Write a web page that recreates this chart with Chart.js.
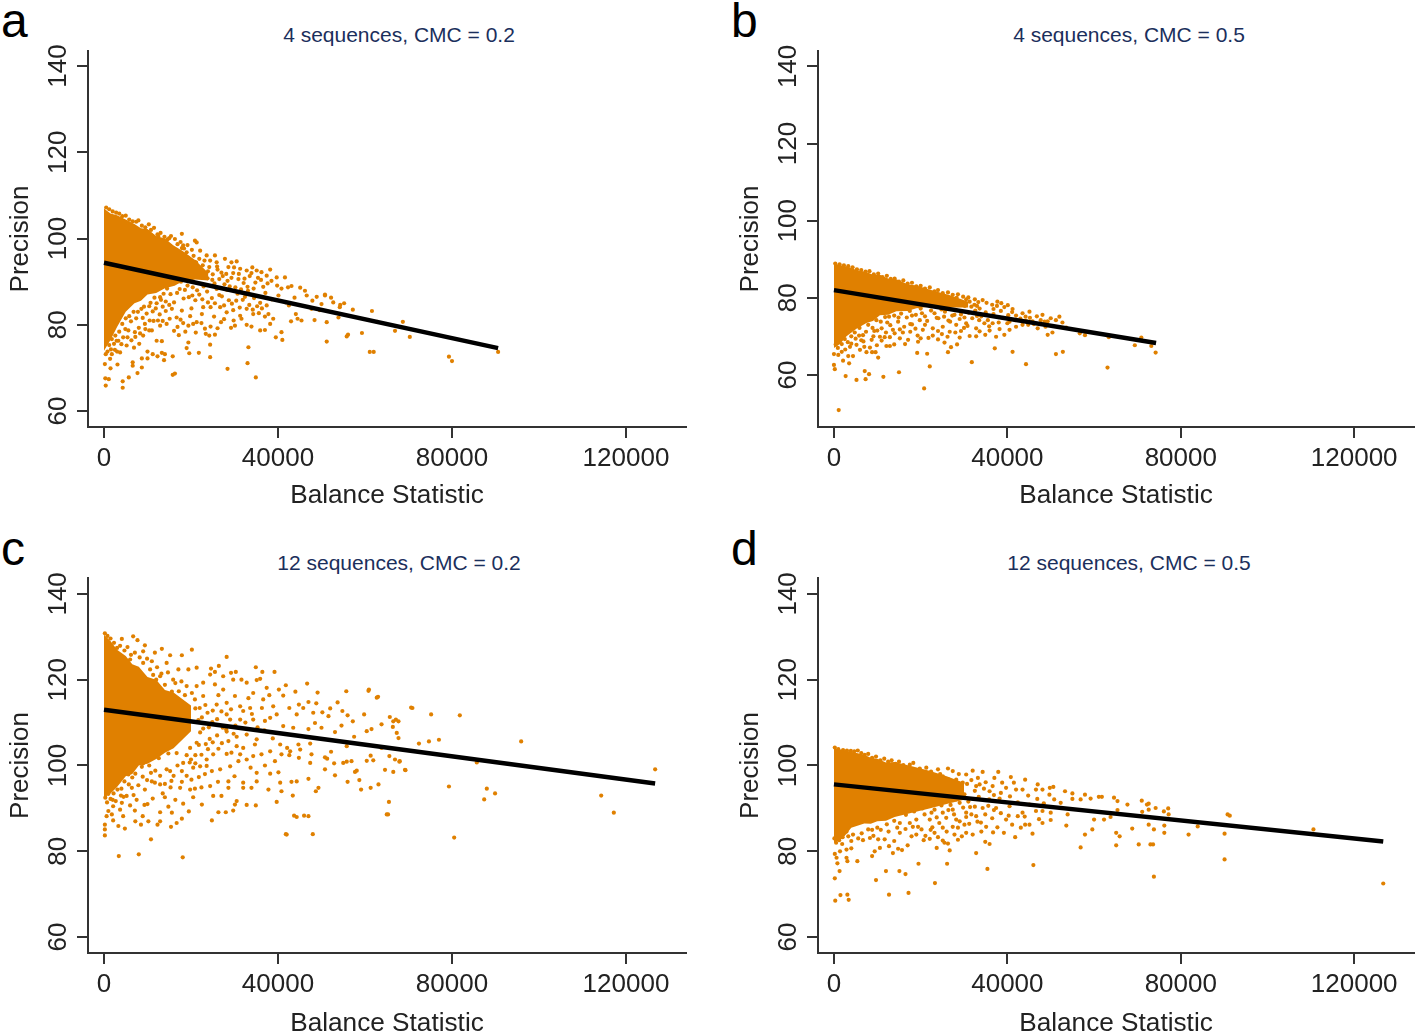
<!DOCTYPE html>
<html>
<head>
<meta charset="utf-8">
<title>Precision vs Balance Statistic</title>
<script src="https://cdn.jsdelivr.net/npm/chart.js@4"></script>
<style>
html, body { margin: 0; padding: 0; background: #fff; width: 1418px; height: 1034px; overflow: hidden; }
body { position: relative; font-family: "Liberation Sans", Arial, sans-serif; }
canvas { position: absolute; }
.letter { position: absolute; font-size: 48px; line-height: 48px; color: #000; }
.ptitle { position: absolute; width: 400px; text-align: center; font-size: 21px; line-height: 24px; color: #1b2f5c; }
</style>
</head>
<body>
<div class="letter" style="left:1px;top:-3px">a</div>
<div class="letter" style="left:731px;top:-3px">b</div>
<div class="letter" style="left:1px;top:525px">c</div>
<div class="letter" style="left:731px;top:525px">d</div>
<div class="ptitle" style="left:199px;top:23px">4 sequences, CMC = 0.2</div>
<div class="ptitle" style="left:929px;top:23px">4 sequences, CMC = 0.5</div>
<div class="ptitle" style="left:199px;top:551px">12 sequences, CMC = 0.2</div>
<div class="ptitle" style="left:929px;top:551px">12 sequences, CMC = 0.5</div>
<canvas id="panelA" width="700" height="490" style="left:0;top:40px"></canvas>
<canvas id="panelB" width="688" height="490" style="left:730px;top:40px"></canvas>
<canvas id="panelC" width="700" height="488" style="left:0;top:568px"></canvas>
<canvas id="panelD" width="688" height="488" style="left:730px;top:568px"></canvas>
<script>
const xTicks = [0, 40000, 80000, 120000];
const yTicks = [60, 80, 100, 120, 140];
const xTitle = "Balance Statistic";
const yTitle = "Precision";
const ORANGE = "#e08000";

// fitted lines
const fitA = [[0, 94.4], [90600, 74.6]];
const fitB = [[0, 82], [74300, 68.3]];
const fitC = [[0, 113], [126700, 95.8]];
const fitD = [[0, 95.6], [126700, 82.3]];

// solid part of each cloud, too dense to read single dots: x, top, bottom
const coreXA = [0, 1500, 3000, 5000, 7000, 8500, 10000, 12000, 14000, 16000, 18000, 21000, 24000];
const coreTopA = [107, 105.8, 105.4, 104.4, 103.4, 102.4, 102.2, 100.6, 100, 98.4, 97.2, 95, 92];
const coreBottomA = [74, 76.5, 79.5, 83, 85, 85.6, 87, 87.4, 88.5, 89, 90, 90.5, 90.3];
const coreXB = [0, 1400, 2900, 5200, 7500, 9000, 10600, 12500, 14400, 17000, 19000, 23000, 27000, 31000];
const coreTopB = [88.8, 88.5, 88.1, 87.2, 86.7, 86, 86, 85, 84.8, 83.5, 83.2, 81.8, 80.6, 79];
const coreBottomB = [67, 68, 70, 72, 73.5, 74, 75.5, 75.6, 76.5, 76.6, 77.3, 77.8, 77.5, 77.5];
const coreXC = [0, 1500, 3000, 5000, 6500, 8000, 10000, 12000, 14000, 16000, 20000];
const coreTopC = [130.5, 129, 127, 125.5, 123.6, 123, 120.6, 120, 117.6, 117, 114];
const coreBottomC = [92.5, 93.5, 95, 97.5, 98, 100, 100.4, 101.5, 103, 104, 108];
const coreXD = [0, 2000, 4000, 7000, 8500, 10000, 12000, 14000, 18000, 22000, 26000, 30000];
const coreTopD = [104, 103.6, 103.2, 102.5, 101.8, 101.6, 100.7, 100.8, 99.8, 98.8, 97.5, 96];
const coreBottomD = [82, 83, 85.5, 86.5, 86.4, 87, 87.1, 88, 89, 90, 91, 92];

const pointsA = [
[200,70.9],[1400,72.1],[3100,70.8],[1500,69.9],[300,67.6],[1100,67.4],[400,65.9],[4300,66.9],[4300,65.4],[5700,67.8],[7700,68.8],[8700,70.1],
[6600,71.3],[6600,70.5],[8700,72.2],[10000,73.8],[10000,72.2],[11200,73.2],[12300,72.7],[13300,73.5],[14000,73.2],[13800,71.8],[15800,72.7],[15800,68.4],
[16300,68.7],[19400,75.9],[19000,74.6],[19600,73.4],[21800,73.5],[24400,72.5],[24400,75.4],[23400,77.9],[24200,77.5],[25500,77.7],[17200,77.6],[12100,76.3],
[13300,76.2],[28400,69.8],[33000,71.1],[33200,74.8],[34900,67.8],[39500,77.1],[40800,78.3],[41000,76.5],[51200,76.1],[51200,80.6],[55800,77.3],[56100,77.7],
[59300,78.1],[61100,73.7],[62000,73.7],[62800,80.7],[66900,78.6],[70300,77.2],[68700,80.7],[61600,83.2],[79300,72.6],[80000,71.6],[90600,73.7],[50800,87],
[57200,83.5],[54300,84.6],[17900,101.1],[20900,99.5],[21300,99.1],[16300,99.9],[18200,98.4],[20200,97.4],[19000,96.8],[22100,97.2],[23600,96.1],[25500,96.1],
[24400,94.9],[25900,94.5],[27800,95.3],[29300,94.5],[30500,94.7],[28600,93.4],[31300,93],[32800,92.6],[34100,93.3],[35100,92.6],[36200,92.2],[38200,92.8],
[37400,91.4],[39700,91],[41600,91],[43100,89],[45100,88.6],[46200,87.9],[46600,86.8],[50800,86.8],[52700,85.2],[55200,85],[54200,84.1],[50000,84.8],
[47700,83.7],[44100,82.5],[44500,81.4],[45400,81],[43000,80.8],[48400,81.1],[53900,81.7],[37400,84.5],[37800,82.5],[37000,81.9],[38900,81.4],[38200,80.2],
[35900,78.7],[37000,78.8],[33900,79.6],[32800,80],[30100,79.8],[31300,82.1],[31600,81.4],[34300,82.5],[32800,83.7],[28200,82.9],[26700,84.1],[22800,84.1],
[22500,82.5],[21300,80.6],[19400,79.8],[20500,80.2],[17900,83.3],[16700,81.7],[14400,80.2],[12900,79.8],[11000,78.7],[9000,77.5],[7100,78.3],[5600,78.7],
[5200,75.2],[3700,73.6],[2500,74.2],[1800,73.2],[3300,76.3],[4400,77.1],[2600,77.5],[6200,80.8],[7400,81.5],[8600,83.7],[9800,82.6],[10700,85.1],
[11900,83.8],[13100,85.8],[14200,83.2],[15300,87.1],[16100,85.2],[17400,88.3],[18300,86.1],[19200,89.1],[20300,86.8],[21400,88],[22600,85.9],[23700,87.7],
[24800,86.2],[25900,88.3],[27100,86.6],[28300,88.1],[29400,84.9],[30700,87.2],[31900,85.8],[33100,87.9],[34500,86.2],[35900,85.1],[37100,87.4],[38600,85.9],
[40100,86.8],[41800,85.2],[18700,93.5],[19700,92],[20900,94.6],[21800,91.2],[22700,93.8],[23900,92.4],[24900,90.4],[26100,92.8],[27300,91.3],[28400,90.2],
[29700,92],[30900,90.6],[32100,89.7],[33500,91.3],[34800,89.8],[36100,90.4],[15300,95.8],[16700,93],[17200,96.2],[14800,97.1],[12500,100.6],[15000,100.1],
[11600,86.3],[9400,80.2],[8000,79.3],[10500,81],[12800,82.4],[15600,83.7],[16900,79.5],[18200,80.4],[20100,83.8],[23200,79.1],[25300,81.9],[26900,80.6],
[6900,74.7],[8100,75.6],[4900,79],[29800,81],[35200,84.3],[42500,84.5],[43800,86.3],[47900,85.6],[48900,86.5],[52200,86.3],[49600,83.4],
[500,107.2],[1200,106.8],[2000,106.3],[2800,106],[3500,105.8],[4200,105.2],[5000,105.3],[5800,104.4],[6600,104],[7400,103.9],[7900,104.2],[8700,103],
[9500,102.6],[10300,103.3],[10800,102],[11500,102.5],[12300,101],[13000,101.3],[13900,100.4],[14600,99.8],[15400,100.6],[16900,98.7],[17600,99.2],[18400,97.7],
[19200,98.5],[16300,97],[17100,95],[17900,97.8],[18500,94.2],[19300,95.6],[20000,93],[20600,96],[21200,94.4],[21900,95.3],[22600,91.9],[23100,94.9],
[23800,90.8],[24200,93.4],[25000,91.7],[25400,89.6],[26000,93.5],[26500,90.6],[27000,92.1],[27700,89.4],[28100,91.8],[28900,88.9],[29300,90.9],[29900,93.3],
[30200,88.7],[31000,91.8],[31500,88.2],[32300,90.7],[33000,88.8],[33900,92],[34400,88.4],[35400,90.9],[36600,88.8],[37600,89.6],[38500,90.2],[39800,89.1],
[40800,88.4],[42300,88.7],[15100,90.8],[16200,89.6],[16800,87.4],[17700,90],[18600,88.1],[19500,86.4],[20400,88.7],[21000,85.7],[21900,87],[22900,88.9],
[23900,85.2],[24500,84.1],[25500,85],[26500,86.9],[27600,84.5],[28700,85.7],[29700,83.4],[30400,85.6],[31200,84],[32400,86.5],[33400,84.6],[34200,83.5],
[35600,82.7],[36300,83.8],[14500,88.4],[13700,87.2],[12900,86.4],[14200,85.4],[15000,84.6],[13500,84.2],[12100,85],[11200,83.1],[10400,84.3],[9200,84.2],
[8900,81.6],[7800,83],[6800,83],[5800,82],[5000,81.5],[4200,80.2],[3500,78.4],[2900,76.3],[2300,75.6],[1800,76.7],[1200,75.3],[800,73.8],
[400,73.2],[1600,74.3],[3000,73.8],[4000,75.5],[5400,77.1],[6300,76.4],[7200,77.2],[8300,78],[9500,79],[10400,78.7],[11400,80.9],[12400,81],
[13500,80.9],[15100,81.4],[16100,78.6],[17600,81.2],[18700,78.4],[19800,82],[21100,78.2],[22400,80.4],[24500,79.6],[26100,79.2],[27600,81.3],[29200,79.3]
];

const pointsB = [
[1100,50.9],[2700,59.7],[5200,58.7],[7300,58.9],[7100,61],[8100,60.2],[11400,59.5],[15000,60.7],[20800,56.5],[22100,62.2],[21500,65.5],[19200,65.7],
[26300,65.9],[27000,67.2],[28400,67.9],[31800,63.3],[37100,66.9],[41200,66],[44300,62.8],[51200,65.4],[52800,66],[63100,61.9],[69400,67.7],[73200,67.5],
[74200,65.8],[70900,69.7],[63400,69.8],[57900,70.3],[56700,70.8],[49300,70.4],[50400,71],[52000,75.1],[50000,74.7],[52700,73.6],[47000,72.1],[45100,76.4],
[43500,76],[42000,75.4],[47700,74.2],[40100,78.1],[39300,77.6],[34300,79.4],[31300,79],[37400,69.9],[34900,70.4],[32800,72.1],[31300,70.1],[39300,70.4],
[40500,71.7],[42000,72.5],[43500,73],[44800,73],[36600,73.4],[34700,73.4],[30500,73.4],[28200,73],[26700,71.2],[25100,72.5],[22800,72.1],[20500,71.7],
[19400,68.6],[17100,69.1],[15200,69.5],[12900,67.5],[12100,67.5],[10200,64.5],[9600,65.9],[8800,65.9],[7500,65.9],[6000,66.5],[4400,64.9],[3300,64.9],
[3500,63],[2100,63.7],[0,62.6],[200,61.5],[0,65.4],[1000,65.2],[1800,66],[3700,67.3],[5200,67.8],[8700,69.1],[10600,69.9],[11700,69.8],
[12900,69.8],[13600,71.7],[11000,72.1],[16200,72.5],[18000,73.1],[19800,74.2],[21500,74],[23700,74.8],[25400,75.1],[27300,75.4],[29300,75.7],[31100,76.1],
[33000,75.3],[35000,76.2],[36800,75.8],[38500,76.6],[40200,75.5],[41800,74.2],[26000,79.6],[27200,78.7],[28300,80],[29500,78.5],[30500,79.6],[32400,78.2],
[33300,78.9],[35200,78.7],[36500,78.2],[37600,77.9],[38600,78.6],[33600,77.2],[28100,76.8],[24800,77],[22400,76.7],[20300,76],[18000,75.4],[14800,73.8],
[12300,73.6],[9300,71.4],[7400,71.2],[5800,70.2],[6800,68.7],[9900,67.7],[13900,67.9],[15900,71],[17600,71.2],[19300,70.2],[21800,69.6],[24000,69.2],
[24900,70.6],[29300,71.4],[33500,74.2],[35900,71.5],[46100,73.2],[48600,73.8],[48800,72.5],[53600,72.3],[45200,74.8],[41200,77.1],[44200,75.1],[38000,73.6],
[30100,74.9],[26400,74.1],[24000,79.2],[37700,79],[22100,81],[24800,80.1],
[300,88.9],[1300,88.7],[2300,88.4],[3300,88.2],[4300,87.9],[5300,87.4],[6300,87.2],[7300,86.8],[8200,86.9],[9200,86.1],[10200,86.3],[11200,85.4],
[12200,85.7],[13100,84.9],[14000,85],[15000,84.2],[16000,84.5],[17000,83.7],[18000,83.9],[19000,83],[20000,83.1],[21000,82.4],[22100,82.7],[23200,81.7],
[24000,82],[25100,81.2],[26300,81.4],[27400,80.8],[28600,80.9],[29800,80.3],[31000,80.1],[32500,79.6],[24100,80.2],[25300,79.8],[26500,79.9],[27800,79.1],
[29000,79],[30200,77.9],[31700,77.7],[33000,77.9],[15500,75.9],[16800,74.9],[17500,76.6],[18900,75.6],[20000,77.2],[21000,75.2],[22000,78],[23200,76],
[24100,74.7],[25600,76.4],[26800,73.8],[27800,75.6],[29000,74.5],[30800,72.7],[31900,74.7],[32600,76.7],[34000,75.2],[35500,74.2],[36800,77.1],[38000,75],
[39000,74.8],[40500,73.8],[41100,76.3],[43000,74.6],[44300,74],[45800,73.9],[46800,75.2],[48100,75.6],[49300,73.9],[51200,74.2],[5900,72.2],[6700,70.3],
[7900,73],[8900,72.2],[9800,74.2],[10800,73.8],[11800,75],[12700,75.1],[13900,75.4],[14900,74.9],[4800,71],[4000,70],[3200,68.5],[2500,69.3],
[1800,68],[900,67],[400,67.9],[1300,69.4],[2600,66.6],[4000,68.1],[5000,69.4],[6300,69],[7000,67.3],[8300,67.1],[9100,70],[10000,71.5],
[11000,68.9],[12000,71],[13000,72.9],[14000,70.8],[15200,71.8],[16400,68],[17600,73.2],[18800,72],[20000,69.5],[21000,73],[22800,70.2],[24000,71.4],
[25500,68.4],[26200,69.9],[28000,71],[29000,69.7],[30000,72.2],[32800,70],[33600,71.3],[35800,72.6],[38200,71.9],[40000,73.4]
];

const pointsC = [
[3400,78.9],[8000,79.3],[18100,78.6],[10800,82.8],[200,83.7],[200,85.1],[42000,83.9],[200,86.2],[4800,85.3],[3300,85.9],[8500,86.2],[10200,87],
[12300,86.2],[12900,87],[15400,85.7],[16700,86.6],[17900,87.6],[24800,87.2],[44300,88],[47000,88.2],[65000,88.6],[65500,91.5],[39700,91.5],[30500,91.7],
[30100,90.9],[32800,90.8],[34900,90.7],[29700,89.5],[28000,89.1],[26300,89.1],[22500,90.9],[20500,92.6],[18200,91.1],[14800,90.4],[12900,89.1],[15600,89],
[7100,89.5],[8900,88.2],[4400,88.2],[2100,87.2],[3700,89.7],[1800,88.6],[600,88.2],[11200,92.3],[17500,94.8],[19800,94.4],[20900,94.6],[24400,95.2],
[25100,92.9],[27000,92.9],[28600,94.8],[32000,96],[32000,94.8],[33900,94.8],[37800,94.4],[40800,94],[43400,93],[49300,94.8],[48700,94],[56000,96.2],
[59100,94.4],[61300,94.8],[63100,95.6],[58700,96.6],[47000,96.9],[44300,96.3],[43100,96.2],[40500,96],[40100,98.4],[38200,98.1],[35100,98.3],[35100,96.3],
[28600,96.3],[66500,98.5],[69300,98.9],[67900,100.9],[65600,102.2],[60400,101.1],[61900,101.2],[61300,102.3],[57700,98.5],[58100,98.8],[53100,97.7],[50800,99.1],
[52900,100.5],[55000,100.6],[56900,101],[55800,100.9],[50800,101.9],[51300,101.6],[47400,100.6],[47700,102.6],[44800,101.8],[42600,102.4],[42100,104.1],[40800,102.6],
[39300,101],[70900,113.4],[62700,115.8],[60800,117.4],[55700,117.3],[46700,119.1],[41800,118.7],[39200,121.8],[34900,122.9],[36400,121.8],[28200,125.3],[26400,123.2],
[24600,122.6],[29200,121.6],[30300,121.8],[25500,121.8],[24400,121.2],[20200,127],[17900,125.7],[15200,125.7],[13300,127.2],[9400,128],[6700,130.1],[7700,129.2],
[4100,129.5],[65700,111.3],[66500,110.3],[67700,110.3],[63800,109.6],[61500,108.5],[60400,108],[59800,111.9],[57200,110.3],[56000,111.7],[54800,112.7],[54600,109.3],
[52000,113.3],[50200,112.4],[48800,114.5],[47000,114.8],[44800,114.2],[45800,113.4],[42600,113.4],[44300,111.9],[48100,112.3],[51600,111.5],[48500,109.9],[50000,108.8],
[53100,107.8],[47000,108.5],[72400,105.1],[67700,106.4],[67300,107.6],[41200,116.3],[40200,117.7],[37400,118.1],[35100,119.9],[35900,120.2],[32800,119.3],[31600,120],
[29700,120],[27400,120.8],[34300,116.9],[36600,115.4],[33600,113.4],[36300,113.4],[32000,112.7],[38900,113.8],[39700,111.9],[41200,109.2],[43500,108.8],[34300,110.7],
[31300,110.7],[29000,110.7],[28200,111.9],[25900,114.2],[28200,114.6],[30100,116.2],[27400,117.7],[25500,118.9],[22800,119.3],[21300,122.8],[19400,122.4],[17100,122.4],
[14400,123.9],[11000,124.3],[11700,126.3],[9000,123.9],[6000,124.7],[21300,118.5],[22800,116.2],[20900,115.4],[19000,118.5],[15900,120],[12900,120.8],[32800,107.2],
[35100,106.1],[30500,104.5],[28600,105.7],[25100,102.6],[23600,101.4],[22100,99.8],[20500,99.5],[24800,98.7],[26700,99.1],[29000,99.8],[30900,101],[32800,101.4],
[34300,102.2],[36200,102.6],[32000,104.1],[34700,104.9],[38200,103.3],[40500,104.9],[42800,103.3],[44700,104.9],[45100,103.7],[47400,105.1],[18200,100.6],[15200,98.7],
[14400,99.1],[16700,102.9],[19800,104.1],[21300,105.3],[17900,98.7],[11700,96],[12900,95.6],[11000,96.3],[9400,94.4],[6400,94.8],[5200,92.9],[4100,91.3],
[2100,90.5],[1000,89.4],[126700,99.1],[114300,93],[117200,89],[95900,105.6],[81800,111.7],[75200,111.9],[70600,113.5],[85700,100.7],[88000,94.6],[87400,92.1],
[89900,93.5],[79300,95.1],[80500,83.2],[77000,106],[74700,105.6],[69200,99],[66900,101.4],[65300,88.6],[64600,99],[60900,117.7],[63000,116],[67100,110.7],
[66400,109],[68000,101],[48000,84],[46000,88.3],[43700,88.3],[41800,84],[7500,92],[10000,91],[13500,93.5],[15500,96.4],[21800,97.3],[23200,98],
[26200,96.2],[30000,97.5],[33700,99.5],[37000,100],[38800,106.3],[36900,108.2],[29800,107.4],[27300,108.8],[24900,110.1],[23800,112.3],[26300,116.4],[22000,113.4],
[33200,115.7],[38000,116.4],[44000,117.2],[49100,117],[53700,114.7],[57500,106.7],[63800,104.1],[55800,104.5],[52200,103.2],[12000,120],[17200,117.3],[18000,113.6],
[8700,99.7],[10400,100],[12600,101.7],[14800,102.8],[4000,94.6],[2000,92],[17000,108.2],[19400,108.6],[22100,107.7],[24300,106.2],[26300,103.9],[28200,102.7],
[200,130.8],[800,130.2],[1500,129.6],[2300,128.6],[3000,127.4],[3700,127.9],[4700,126.8],[5400,127.6],[6200,125.8],[7100,126.3],[8200,125.2],[9000,126.6],
[9900,124.9],[10600,122.4],[11300,121.1],[12200,122.9],[13200,121.4],[14000,118.8],[14700,121.7],[15600,117.2],[16400,119.2],[17000,115.4],[17800,119.6],[18600,116.4],
[19500,113.2],[20200,116.9],[21000,113.3],[21700,110.6],[22500,111.2],[23300,114.1],[24100,108.9],[25000,112.8],[26000,110.8],[27000,112.6],[28100,108.4],[29200,113.1],
[30200,109.3],[31300,113.8],[32500,110],[34000,112],[35300,108.9],[37000,110.4],[38200,111.1],[21800,104.8],[22800,108.6],[23900,103.8],[25000,105.4],[26000,107],
[27100,105.2],[28200,107.9],[29300,103],[30500,106.7],[31300,102.6],[19000,102.4],[20000,101.4],[21000,102.4],[22400,102.5],[23400,105],[9000,100.5],[8000,100.9],
[7200,98.1],[6500,97.2],[5600,97.9],[4700,96.3],[3900,93],[3100,94.4],[2200,93.5],[1500,92.2],[700,91.4],[300,92.5],[1000,93.4],[2700,91.7],
[4500,92.7],[5700,95.6],[6800,93.1],[7900,95.4],[8900,97.4],[9900,96.6],[10800,98.3],[11800,98.8],[12900,97.6],[14000,95.7],[15300,94.9],[16000,97.6],
[16900,100],[17900,96.2],[19000,97.6],[20100,96.7],[21000,100.5],[22400,94.9],[23600,99.9],[19700,100.7],[7200,87],[14000,92.6],[16400,92],[19500,89.3],[6000,90.7],[9300,90.8]
];

const pointsD = [
[300,68.5],[1500,69.8],[3100,69.9],[3400,68.7],[12700,69.9],[17200,70.3],[23300,72.6],[9700,73.3],[12000,75.4],[15100,75.4],[16500,74.7],[200,73.7],
[1300,75.4],[800,77.2],[3100,77.7],[5400,77.7],[19500,77.1],[26100,77.1],[35400,75.9],[46000,76.8],[73800,74.1],[73000,81.6],[73600,81.6],[65100,81.4],
[56900,80.9],[32800,79.6],[23700,80.8],[26700,80.2],[34900,82.2],[35900,81.7],[25500,82],[26300,81.8],[25100,82.5],[15700,80.3],[14800,80.6],[13600,79.6],
[12700,81.2],[10600,80.8],[9400,80],[8800,78.9],[4000,80.7],[2900,80.4],[1400,80],[200,79.4],[600,78.5],[2900,78.5],[65900,83.5],[65100,84.3],
[59600,85.1],[57900,83.9],[53600,86],[68800,85.3],[73800,85.1],[76200,84.3],[76200,86],[77100,90],[74200,90.1],[72600,89.7],[72600,91.1],[71000,91.8],
[67700,90.9],[64600,92.5],[65400,91.7],[61100,92.7],[61800,92.7],[59200,92.3],[57900,93.2],[56900,92.1],[55000,93.5],[53300,94],[55000,92.2],[50600,95],
[49800,94.8],[47000,95.6],[44100,96.7],[40800,97.3],[37900,98.5],[34300,98.5],[32000,98.8],[26300,99.3],[37000,97.1],[33200,97.1],[30500,97.9],[27400,98.7],
[24000,99.1],[42000,94.4],[43500,94.4],[39700,94.8],[38500,93.6],[36600,95.2],[48100,94.4],[46600,94.4],[49700,93.2],[50800,92.1],[52300,91.3],[45100,90.9],
[46600,89.4],[48100,89.4],[50000,89],[53900,88.6],[60000,87.4],[62300,87.4],[63800,88],[65400,89.6],[71100,89.2],[50000,87.3],[48100,86.6],[45100,86.2],
[44100,86.2],[43100,85.5],[41800,83.3],[45800,84.1],[41100,86.2],[39200,84.3],[35100,85.7],[36500,87.7],[32000,83.9],[29500,83.5],[30500,84.3],[28600,85.5],
[27400,85.7],[25100,85.5],[23200,84.3],[22100,82.9],[20200,85.1],[19000,83.9],[17900,83.5],[15200,84.3],[13900,82.4],[11700,82.8],[10200,82.8],[8300,83.1],
[7900,85.1],[4400,83.9],[3300,83.5],[27400,89.7],[30500,89],[32800,88.2],[34300,90.1],[37400,90.1],[40500,90.5],[42400,88.2],[43500,89],[25100,89],
[23200,89.7],[28200,87.4],[25900,87.8],[22100,87.4],[20900,88.6],[17500,86.6],[19000,87.4],[15200,86.6],[17500,100.2],[18300,100.6],[21300,99.5],[20900,97.9],
[25100,97.5],[28200,96.7],[29700,96],[32800,95.2],[27400,95.2],[24800,96],[22800,96.7],[126700,72.5],[90100,78.1],[90800,88.6],[91300,88.3],[110600,85.1],
[90100,84.1],[83900,85.8],[77200,88.6],[76100,89.3],[72200,90.9],[72600,86.2],[70300,81.6],[81800,83.9],[29000,91.3],[31400,90.3],[33400,92.7],[35800,92.1],
[38200,92.3],[40600,92.8],[42400,91.4],[44800,93],[46900,92.2],[48400,91.2],[30100,93.3],[32500,94.1],[34600,94.6],[36900,93.1],[38800,96],[41500,96],
[28300,93.5],[26800,92.6],[24800,90.7],[22500,89],[20400,90],[18500,89.3],[16600,88.5],[13900,87.1],[12200,86.3],[10000,85.5],[8800,85],[6400,84.2],
[28600,82.7],[31200,86.4],[33900,86.7],[37700,85.6],[40300,88.3],[44000,88.1],[47300,87.5],[30500,88],[20700,82.6],[17000,81.4],[22300,85],[24300,86.6],
[200,104.2],[1000,103.8],[2100,103.6],[3000,103.5],[3900,103.4],[4700,103.3],[5500,103.5],[6300,102.9],[7100,102.5],[7900,102.7],[8800,101.8],[9700,102.1],
[10700,101.2],[11600,101.6],[12500,100.9],[13300,101.2],[14200,100.4],[15000,100.9],[16000,100.1],[16800,99.2],[18800,98.8],[19800,99.3],[20500,96.3],[21800,98.1],
[22400,98.6],[23300,95.2],[24500,98],[25700,95.3],[26400,96.8],[28800,98],[29400,94.9],[30700,95.7],[31700,96.6],[33600,95.6],[35000,96.1],[35900,94],
[26900,90.8],[28200,92.1],[29800,90.2],[31000,91.6],[32500,90.4],[23700,87.9],[26400,89.6],[27700,88.6],[29000,87],[31700,88.6],[33100,86.9],[34900,88.6],
[35600,90.6],[36900,89.6],[38500,88.9],[39700,87.4],[2900,84.6],[2000,83.3],[1200,82.6],[500,82],[100,83],[900,84.4],[1900,81.7],[4000,82.4],
[5600,83],[6700,82.6],[9100,83.6],[10800,85],[12600,84.6],[14600,85.5],[16500,85.2],[18200,85.7],[19400,85.7],[21100,83.6],[22700,85.6],[24000,83.3],
[26000,84.6],[27800,83.9],[30100,86.2],[34000,84.6],[36700,84.4]
];

// keeps the plot box where the original has it
const fixX = (h) => (s) => { s.height = h; s.paddingLeft = 0; s.paddingRight = 0; };
const fixY = (w) => (s) => { s.width = w; s.paddingTop = 0; s.paddingBottom = 0; };

function makePanel(id, cfg) {
    const toPts = (arr) => arr.map(p => ({ x: p[0], y: p[1] }));
    new Chart(document.getElementById(id), {
        type: "scatter",
        data: {
            datasets: [
                { type: "line", data: toPts(cfg.fit), borderColor: "#000", borderWidth: 4.5, pointRadius: 0, order: 0 },
                { data: toPts(cfg.points), backgroundColor: ORANGE, borderWidth: 0, pointRadius: 2.1, order: 1 },
                { type: "line", data: cfg.coreX.map((x, i) => ({ x: x, y: cfg.coreTop[i] })), borderWidth: 0, pointRadius: 0, backgroundColor: ORANGE, fill: "+1", order: 2 },
                { type: "line", data: cfg.coreX.map((x, i) => ({ x: x, y: cfg.coreBottom[i] })), borderWidth: 0, pointRadius: 0, order: 3 }
            ]
        },
        options: {
            responsive: false,
            animation: false,
            events: [],
            layout: { padding: { top: cfg.padTop, right: cfg.padRight, left: 0, bottom: 0 } },
            plugins: { legend: { display: false }, tooltip: { enabled: false } },
            scales: {
                x: {
                    type: "linear",
                    min: -3678, max: 133793,
                    afterBuildTicks: (s) => { s.ticks = xTicks.map(v => ({ value: v })); },
                    afterFit: fixX(103),
                    border: { color: "#333", width: 2 },
                    grid: { drawOnChartArea: false, tickLength: 11, color: "#333", lineWidth: 2 },
                    ticks: { color: "#222", font: { family: "Liberation Sans", size: 26 }, padding: 5, maxRotation: 0, autoSkip: false, callback: (v) => String(v) },
                    title: { display: true, text: xTitle, color: "#222", font: { family: "Liberation Sans", size: 26.2 }, padding: { top: 0, bottom: cfg.xTitlePad } }
                },
                y: {
                    type: "linear",
                    min: cfg.yMin, max: cfg.yMax,
                    afterBuildTicks: (s) => { s.ticks = yTicks.map(v => ({ value: v })); },
                    afterFit: fixY(88),
                    border: { color: "#333", width: 2 },
                    grid: { drawOnChartArea: false, tickLength: 11, color: "#333", lineWidth: 2 },
                    ticks: { color: "#222", font: { family: "Liberation Sans", size: 26 }, padding: -4, minRotation: 90, maxRotation: 90, crossAlign: "center", autoSkip: false, callback: (v) => String(v) },
                    title: { display: true, text: yTitle, color: "#222", font: { family: "Liberation Sans", size: 26 }, padding: { top: 5, bottom: 0 } }
                }
            }
        }
    });
}

makePanel("panelA", { fit: fitA, points: pointsA, coreX: coreXA, coreTop: coreTopA, coreBottom: coreBottomA, yMin: 56.3, yMax: 143.5, padTop: 11, padRight: 14, xTitlePad: 19 });
makePanel("panelB", { fit: fitB, points: pointsB, coreX: coreXB, coreTop: coreTopB, coreBottom: coreBottomB, yMin: 46.5, yMax: 144, padTop: 11, padRight: 2, xTitlePad: 19 });
makePanel("panelC", { fit: fitC, points: pointsC, coreX: coreXC, coreTop: coreTopC, coreBottom: coreBottomC, yMin: 56.3, yMax: 143.7, padTop: 10, padRight: 14, xTitlePad: 17 });
makePanel("panelD", { fit: fitD, points: pointsD, coreX: coreXD, coreTop: coreTopD, coreBottom: coreBottomD, yMin: 56.3, yMax: 143.7, padTop: 10, padRight: 2, xTitlePad: 17 });
</script>
</body>
</html>
